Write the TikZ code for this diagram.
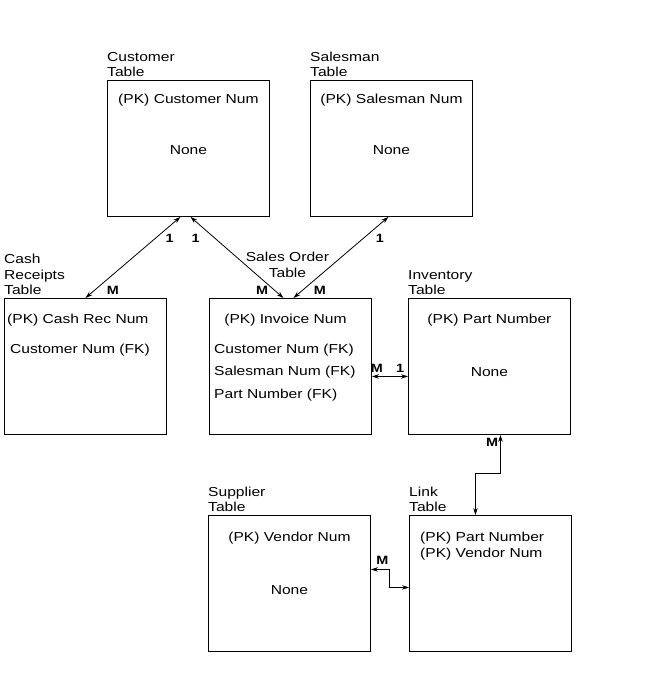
\documentclass[tikz,border=0pt]{standalone}
\usepackage{fontspec}
\setmainfont{Liberation Sans}[FakeStretch=1.2]
\usetikzlibrary{positioning,arrows.meta}
\begin{document}
\begin{tikzpicture}[x=1pt,y=-1pt,>={Stealth[length=7pt,width=4.5pt]},
		tbl/.style={draw,line width=0.9pt,minimum width=162pt,minimum height=136pt,anchor=north west,inner sep=0pt},
		ttl/.style={align=left,anchor=south west,inner sep=0pt,yshift=3pt,font=\fontsize{13}{15.5}\selectfont},
		txt/.style={inner sep=0pt,font=\fontsize{13}{15.5}\selectfont},
		card/.style={inner sep=0pt,font=\bfseries\fontsize{12}{13}\selectfont},
		rel/.style={<->,line width=0.8pt}]
	\useasboundingbox (0,0) rectangle (646,676);
	% tables
	\node[tbl] (cust) at (107,80) {};
	\node[tbl] (sales) at (310,80) {};
	\node[tbl] (cash) at (4,298) {};
	\node[tbl] (inv) at (209,298) {};
	\node[tbl] (invt) at (408,298) {};
	\node[tbl] (supp) at (208,515) {};
	\node[tbl] (link) at (409,515) {};
	% table names
	\node[ttl] (custname) at (cust.north west) {Customer\\Table};
	\node[ttl] (salesname) at (sales.north west) {Salesman\\Table};
	\node[ttl] (cashname) at (cash.north west) {Cash\\Receipts\\Table};
	\node[ttl] (invtname) at (invt.north west) {Inventory\\Table};
	\node[ttl] (suppname) at (supp.north west) {Supplier\\Table};
	\node[ttl] (linkname) at (link.north west) {Link\\Table};
	\node[txt,align=center] (invname) at ([xshift=-3pt,yshift=33pt]inv.north) {Sales Order\\Table};
	% keys
	\node[txt] (custpk) at ([yshift=-20pt]cust.north) {(PK) Customer Num};
	\node[txt] (custfk) at ([yshift=-70pt]cust.north) {None};
	\node[txt] (salespk) at ([yshift=-20pt]sales.north) {(PK) Salesman Num};
	\node[txt] (salesfk) at ([yshift=-70pt]sales.north) {None};
	\node[txt,anchor=west] (cashpk) at ([xshift=3pt,yshift=-22pt]cash.north west) {(PK) Cash Rec Num};
	\node[txt,anchor=west] (cashfk) at ([xshift=6pt,yshift=-52pt]cash.north west) {Customer Num (FK)};
	\node[txt] (invpk) at ([xshift=-5pt,yshift=-22pt]inv.north) {(PK) Invoice Num};
	\node[txt,anchor=west] (invfka) at ([xshift=5pt,yshift=-52pt]inv.north west) {Customer Num (FK)};
	\node[txt,anchor=west] (invfkb) at ([xshift=5pt,yshift=-74pt]inv.north west) {Salesman Num (FK)};
	\node[txt,anchor=west] (invfkc) at ([xshift=5pt,yshift=-97pt]inv.north west) {Part Number (FK)};
	\node[txt] (invtpk) at ([yshift=-22pt]invt.north) {(PK) Part Number};
	\node[txt] (invtfk) at ([yshift=-74pt]invt.north) {None};
	\node[txt] (supppk) at ([yshift=-23pt]supp.north) {(PK) Vendor Num};
	\node[txt] (suppfk) at ([yshift=-75pt]supp.north) {None};
	\node[txt,anchor=west,align=left] (linkpk) at ([xshift=11pt,yshift=-31pt]link.north west) {(PK) Part Number\\(PK) Vendor Num};
	% relations
	\draw[rel] ([xshift=-8pt]cust.south) -- node[card,pos=0.26,xshift=14pt]{1} node[card,pos=0.9,xshift=18pt]{M} (cash.north);
	\draw[rel] ([xshift=2pt]cust.south) -- node[card,pos=0.26,xshift=-19pt]{1} node[card,pos=0.9,xshift=-12pt]{M} ([xshift=-7pt]inv.north);
	\draw[rel] ([xshift=-3pt]sales.south) -- node[card,pos=0.26,xshift=16pt]{1} node[card,pos=0.9,xshift=17pt]{M} ([xshift=3pt]inv.north);
	\draw[rel] ([yshift=-10pt]inv.east) -- node[card,pos=0.14,yshift=8pt]{M} node[card,pos=0.78,yshift=8pt]{1} ([yshift=-10pt]invt.west);
	\draw[rel] ([xshift=11pt]invt.south) node[card,anchor=north east,xshift=-2pt,yshift=-3pt]{M} -- ++(0,38) -| ([xshift=-15pt]link.north);
	\draw[rel] ([yshift=14pt]supp.east) node[card,anchor=south west,xshift=5pt,yshift=5pt]{M} -- ++(18,0) |- ([yshift=-4pt]link.west);
\end{tikzpicture}
\end{document}
